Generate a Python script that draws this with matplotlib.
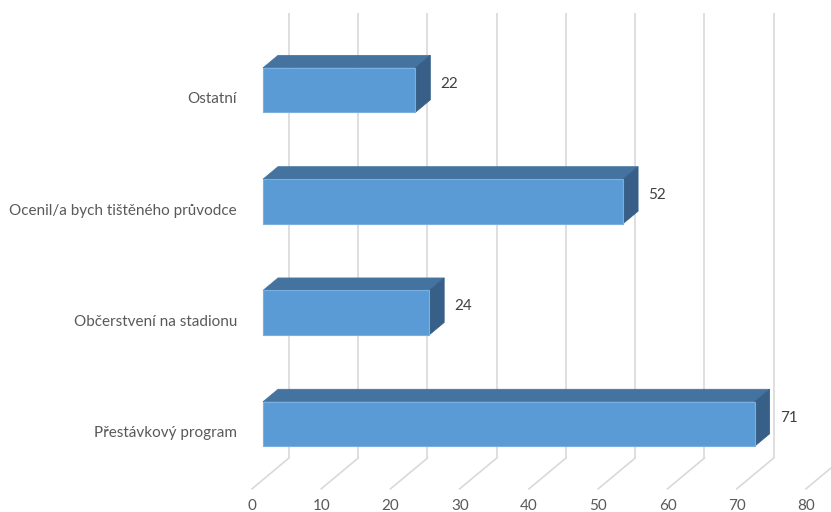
import numpy as np
import matplotlib.pyplot as plt
from matplotlib.patches import Polygon

categories = ["Přestávkový program", "Občerstvení na stadionu",
              "Ocenil/a bych tištěného průvodce", "Ostatní"]
values = [71, 24, 52, 22]
ticks = [0, 10, 20, 30, 40, 50, 60, 70, 80]

# pixel scale of the front plane: px per value unit, px per category step
PXV = 6.925
PXC = 111.3
# oblique offset per depth unit, converted to data units
DX = 15 / PXV
DY = 12.5 / PXC
D_WALL = 1.733
D_FLOOR = -0.733
BAR_W = 0.4

FRONT = "#5b9bd5"
TOP = "#44739f"
SIDE = "#375f87"
GRID = "#d9d9d9"
TEXT = "#595959"
FONT = "Lato"
FS = 11


def proj(v, c, d):
    return (v + d * DX, c + d * DY)


fig = plt.figure(figsize=(8.31, 5.12), dpi=100)
ax = fig.add_axes([0, 0, 1, 1])
ax.axis("off")
ax.set_xlim(-263 / PXV, (831 - 263) / PXV)
ax.set_ylim((424 - 512) / PXC, 424 / PXC)

c_lo, c_hi = -0.5, len(categories) - 0.5

# back wall gridlines and floor lines
for t in ticks:
    x0, y0 = proj(t, c_lo, D_WALL)
    x1, y1 = proj(t, c_hi, D_WALL)
    ax.plot([x0, x1], [y0, y1], color=GRID, lw=1.2, zorder=1, solid_capstyle="butt")
    x2, y2 = proj(t, c_lo, D_FLOOR)
    ax.plot([x0, x2], [y0, y2], color=GRID, lw=1.2, zorder=1)
    ax.annotate(str(t), (x2, y2), xytext=(0, -17), textcoords="offset pixels",
                ha="center", va="center", fontsize=FS, color=TEXT, family=FONT)

# bars as boxes: front, top and right side faces
for i, v in enumerate(values):
    c0, c1 = i - BAR_W / 2, i + BAR_W / 2
    front = [proj(0, c0, 0), proj(v, c0, 0), proj(v, c1, 0), proj(0, c1, 0)]
    top = [proj(0, c1, 0), proj(v, c1, 0), proj(v, c1, 1), proj(0, c1, 1)]
    side = [proj(v, c0, 0), proj(v, c1, 0), proj(v, c1, 1), proj(v, c0, 1)]
    ax.add_patch(Polygon(top, closed=True, fc=TOP, ec=TOP, lw=0.5, zorder=3))
    ax.add_patch(Polygon(side, closed=True, fc=SIDE, ec=SIDE, lw=0.5, zorder=3))
    ax.add_patch(Polygon(front, closed=True, fc=FRONT, ec="#7aafe0", lw=0.8, zorder=4))

    lx, ly = proj(v, i, 1)
    ax.annotate(str(v), (lx, ly - 0.5 * DY), xytext=(10, 0), textcoords="offset pixels",
                ha="left", va="center", fontsize=FS, color="#404040", family=FONT)

    cx, cy = proj(0, i, D_FLOOR)
    ax.annotate(categories[i], (cx, cy), xytext=(-15, 0), textcoords="offset pixels",
                ha="right", va="center", fontsize=FS, color=TEXT, family=FONT)

fig.savefig("out.png", dpi=100)
